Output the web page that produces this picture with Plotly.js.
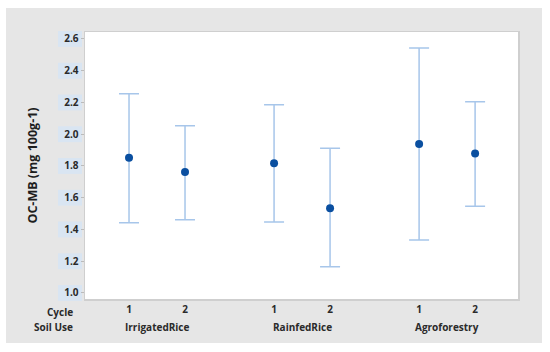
<!DOCTYPE html>
<html>
<head>
<meta charset="utf-8">
<script src="https://cdn.plot.ly/plotly-3.0.1.min.js"></script>
<style>html,body{margin:0;padding:0;background:#fff;}#chart{width:550px;height:352px;}</style>
</head>
<body>
<div id="chart"></div>
<script>
// ---- data ----
const soilUse = ["IrrigatedRice", "RainfedRice", "Agroforestry"];
const cycles = ["1", "2"];
const means = [1.852, 1.762, 1.817, 1.533, 1.939, 1.878];
const upper = [2.255, 2.054, 2.186, 1.911, 2.543, 2.205];
const lower = [1.443, 1.462, 1.447, 1.165, 1.333, 1.546];
const yTicks = [1.0, 1.2, 1.4, 1.6, 1.8, 2.0, 2.2, 2.4, 2.6];

// ---- layout helpers ----
const groupSpacing = 2.59;
const yRange = [0.962, 2.644];
const xs = [], tickText = [];
soilUse.forEach((s, g) => cycles.forEach((c, i) => { xs.push(g * groupSpacing + i); tickText.push(c); }));
const errPlus = upper.map((u, i) => u - means[i]);
const errMinus = means.map((m, i) => m - lower[i]);
const yPaper = v => (v - yRange[0]) / (yRange[1] - yRange[0]);

const font = "'Open Sans', 'Noto Sans', sans-serif";
const trace = {
  type: "scatter", mode: "markers", x: xs, y: means,
  marker: {color: "#0a4fa0", size: 8},
  error_y: {type: "data", symmetric: false, array: errPlus, arrayminus: errMinus,
            color: "#a7c6ea", thickness: 1.5, width: 10},
  hoverinfo: "skip", showlegend: false
};

const shapes = [];
// white frame around the grey panel
const W = {type: "rect", xref: "paper", yref: "paper", layer: "below", line: {width: 0}, fillcolor: "#ffffff"};
shapes.push(Object.assign({}, W, {x0: -0.3, x1: -0.1824, y0: -0.4, y1: 1.3}));
shapes.push(Object.assign({}, W, {x0: 1.0554, x1: 1.2, y0: -0.4, y1: 1.3}));
shapes.push(Object.assign({}, W, {x0: -0.3, x1: 1.2, y0: 1.0899, y1: 1.3}));
shapes.push(Object.assign({}, W, {x0: -0.3, x1: 1.2, y0: -0.4, y1: -0.1648}));
// light blue highlight boxes behind y tick labels
yTicks.forEach(v => shapes.push({type: "rect", xref: "paper", yref: "paper", layer: "below",
  x0: -0.0624, x1: -0.0069, y0: yPaper(v - 0.05), y1: yPaper(v + 0.05), line: {width: 0}, fillcolor: "#d9e5f2"}));

const annotations = [
  {text: "<b>Cycle</b>", xref: "paper", yref: "paper", x: -0.023, y: -0.049, xanchor: "right", yanchor: "middle", showarrow: false},
  {text: "<b>Soil Use</b>", xref: "paper", yref: "paper", x: -0.023, y: -0.105, xanchor: "right", yanchor: "middle", showarrow: false}
];
soilUse.forEach((s, g) => annotations.push({text: "<b>" + s + "</b>", xref: "x", yref: "paper",
  x: g * groupSpacing + 0.5, y: -0.105, xanchor: "center", yanchor: "middle", showarrow: false}));

const layout = {
  width: 550, height: 352,
  margin: {l: 85, r: 32, t: 32, b: 53},
  paper_bgcolor: "#e6e6e6", plot_bgcolor: "#ffffff",
  font: {family: font, size: 10, color: "#2a2a2a"},
  xaxis: {range: [-0.786, 6.946], tickvals: xs, ticktext: tickText.map(t => "<b>" + t + "</b>"),
          ticks: "", showgrid: false, zeroline: false, showline: true, mirror: true,
          linecolor: "#cfcfcf", linewidth: 1.5, tickfont: {size: 10, color: "#2a2a2a"}},
  yaxis: {range: yRange, tickvals: yTicks, ticktext: yTicks.map(v => "<b>" + v.toFixed(1) + "</b>"),
          ticks: "outside", ticklen: 3, tickcolor: "#bbbbbb", showgrid: false, zeroline: false,
          showline: true, mirror: true, linecolor: "#cfcfcf", linewidth: 1.5,
          tickfont: {size: 10, color: "#2a2a2a"},
          title: {text: "<b>OC-MB (mg 100g-1)</b>", font: {size: 12.5, color: "#1e1e1e"}, standoff: 24}},
  shapes: shapes, annotations: annotations
};
Plotly.newPlot("chart", [trace], layout, {staticPlot: true, displayModeBar: false});
</script>
</body>
</html>
